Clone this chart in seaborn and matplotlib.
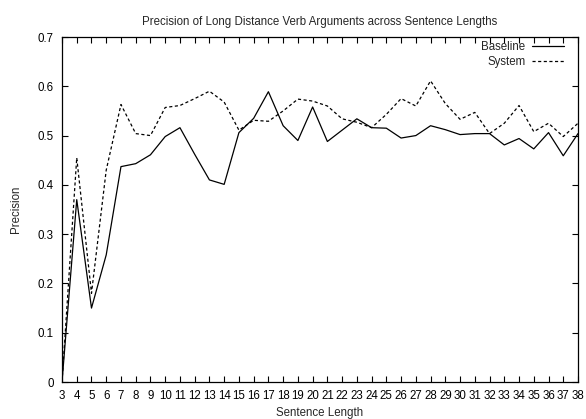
import matplotlib
matplotlib.use("Agg")
import matplotlib.pyplot as plt
import seaborn as sns
import pandas as pd

lengths = list(range(3, 39))
baseline = [0.0, 0.37, 0.15, 0.258, 0.437, 0.443, 0.461, 0.498, 0.516, 0.462,
            0.41, 0.401, 0.506, 0.535, 0.589, 0.52, 0.49, 0.558, 0.488, 0.511,
            0.534, 0.516, 0.515, 0.495, 0.50, 0.52, 0.512, 0.502, 0.504, 0.504,
            0.481, 0.494, 0.473, 0.506, 0.459, 0.504]
system = [0.0, 0.455, 0.18, 0.43, 0.563, 0.504, 0.50, 0.557, 0.561, 0.575,
          0.59, 0.568, 0.511, 0.531, 0.529, 0.55, 0.574, 0.57, 0.56, 0.534,
          0.527, 0.516, 0.543, 0.575, 0.56, 0.611, 0.565, 0.533, 0.547, 0.504,
          0.525, 0.561, 0.508, 0.525, 0.498, 0.525]
series_names = ["Baseline", "System"]
y_ticks = [0, 0.1, 0.2, 0.3, 0.4, 0.5, 0.6, 0.7]
y_tick_labels = ["0", "0.1", "0.2", "0.3", "0.4", "0.5", "0.6", "0.7"]

df = pd.concat([
    pd.DataFrame({"Sentence Length": lengths, "Precision": baseline, "Series": series_names[0]}),
    pd.DataFrame({"Sentence Length": lengths, "Precision": system, "Series": series_names[1]}),
])

sns.set_style("ticks")
plt.rcParams["font.family"] = ["Liberation Sans", "DejaVu Sans"]
FS = 8.3

fig = plt.figure(figsize=(5.86, 4.19), dpi=100)
ax = fig.add_axes([62 / 586, 1 - 382 / 419, (578 - 62) / 586, (382 - 37) / 419])

sns.lineplot(data=df, x="Sentence Length", y="Precision", hue="Series", style="Series",
             palette={"Baseline": "black", "System": "black"},
             dashes={"Baseline": "", "System": (2.5, 2)},
             linewidth=0.9, ax=ax)

ax.set_xlim(3, 38)
ax.set_ylim(0, 0.7)
ax.set_xticks(lengths)
ax.set_xticklabels([str(v) for v in lengths])
ax.set_yticks(y_ticks)
ax.set_yticklabels(y_tick_labels)
ax.tick_params(direction="in", top=True, right=True, length=4, width=0.8,
               labelsize=FS, colors="black")
ax.tick_params(axis="x", pad=6)
ax.tick_params(axis="y", pad=6)
for s in ax.spines.values():
    s.set_visible(True)
    s.set_linewidth(0.9)
    s.set_color("black")

ax.set_xlabel("Sentence Length", fontsize=FS, labelpad=3)
ax.set_ylabel("Precision", fontsize=FS, labelpad=11)
ax.set_title("Precision of Long Distance Verb Arguments across Sentence Lengths",
             fontsize=FS, pad=9)

leg = ax.legend(title=None, loc="upper right", bbox_to_anchor=(0.973, 0.987),
                frameon=False, markerfirst=False, fontsize=FS, handlelength=2.75,
                borderaxespad=0, borderpad=0, labelspacing=0.2, handletextpad=0.6)
for h in leg.get_lines():
    h.set_linewidth(0.9)

fig.savefig("out.png", dpi=100)
